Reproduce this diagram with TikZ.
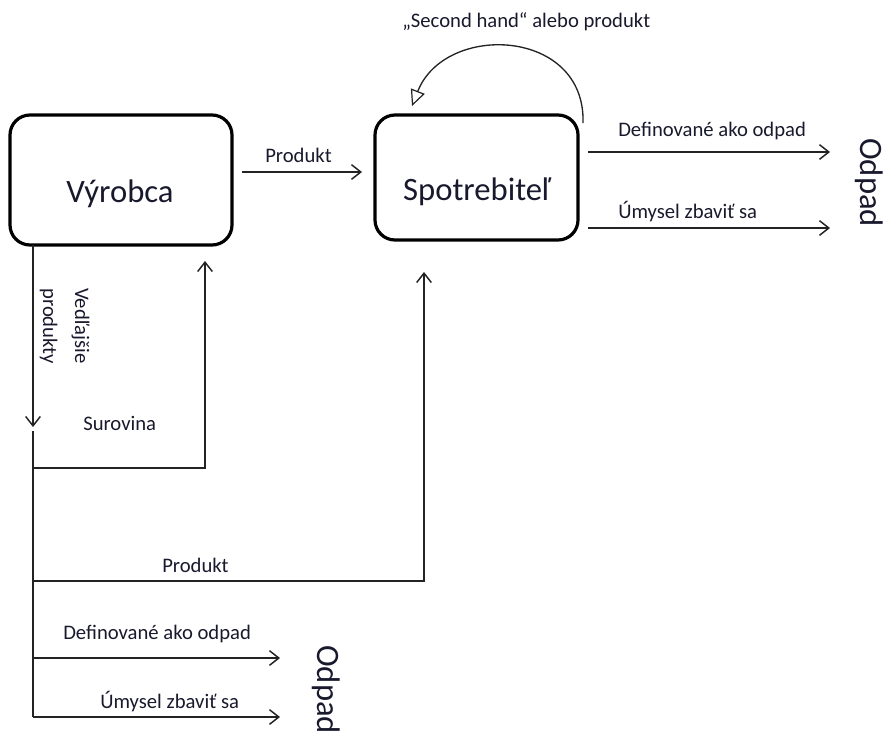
\documentclass[tikz,border=0pt]{standalone}
\usepackage{fontspec}
\setmainfont{Carlito}
\usetikzlibrary{arrows.meta}
\definecolor{txt}{RGB}{25,25,45}
\definecolor{ln}{RGB}{35,35,35}
\begin{document}
\begin{tikzpicture}[x=0.75pt,y=-0.75pt,
  box/.style={draw=black, line width=2.4pt, rounded corners=15pt, inner sep=0pt},
  big/.style={font=\fontsize{24.5}{29}\selectfont, inner sep=0pt, text=txt},
  lbl/.style={font=\fontsize{15.5}{19}\selectfont, inner sep=0pt, anchor=base west, text=txt},
  flow/.style={line width=1.4pt, draw=ln},
  arr/.style={flow, -{Straight Barb[length=7pt,width=11pt,line width=1.1pt]}},
  loop/.style={line width=1pt, draw=ln, -{Triangle[open,length=12pt,width=11pt,line width=0.9pt]}},
]
\useasboundingbox (0,0) rectangle (887,736);

% boxes
\node[box, minimum width=166.5pt, minimum height=97.5pt] (vyr) at (121,180) {};
\node[box, minimum width=152.25pt, minimum height=93.75pt] (spo) at (476.5,177.5) {};
\node[big, anchor=base] (vyrt) at (120,202) {Výrobca};
\node[big, anchor=base] (spot) at (477,200) {Spotrebiteľ};

% self loop
\coordinate (s1) at (583,123);
\coordinate (s2) at (412,106);
\draw[loop] (s1) .. controls (586,28) and (445,22) .. (s2);
\node[lbl] (sh) at (402,27) {„Second hand“ alebo produkt};

% Produkt arrow between boxes
\coordinate (p1) at (242,172);
\coordinate (p2) at (362,172);
\draw[arr] (p1) -- (p2);
\node[lbl] (plbl) at (265,162) {Produkt};

% right outputs
\coordinate (r1a) at (588,152);
\coordinate (r1b) at (830,152);
\coordinate (r2a) at (588,228);
\coordinate (r2b) at (830,228);
\draw[arr] (r1a) -- (r1b);
\draw[arr] (r2a) -- (r2b);
\node[lbl] (rl1) at (618,136) {Definované ako odpad};
\node[lbl] (rl2) at (618,218) {Úmysel zbaviť sa};
\node[big, rotate=-90, anchor=base west] (od1) at (860,138) {Odpad};

% left trunk
\coordinate (v0) at (33,245);
\coordinate (v1) at (33,427);
\coordinate (j0) at (33,431);
\draw[arr] (v0) -- (v1);
\node[lbl, rotate=-90] (ved1) at (75,288) {Vedľajšie};
\node[lbl, rotate=-90] (ved2) at (43,288) {produkty};

\coordinate (j1) at (33,468);
\coordinate (j2) at (33,581);
\coordinate (j3) at (33,658);
\coordinate (j4) at (33,717);
\draw[flow] (j0) -- (j4);

% Surovina back to Vyrobca
\coordinate (su) at (205,261);
\draw[arr] (j1) -| (su);
\node[lbl] (sul) at (83,430) {Surovina};

% Produkt to Spotrebitel
\coordinate (pr2) at (424,272);
\draw[arr] (j2) -| (pr2);
\node[lbl] (pl2) at (162,572) {Produkt};

% bottom outputs
\coordinate (d3) at (280,658);
\coordinate (d4) at (280,717);
\draw[arr] (j3) -- (d3);
\draw[arr] (j4) -- (d4);
\node[lbl] (bl1) at (63,639) {Definované ako odpad};
\node[lbl] (bl2) at (100,708) {Úmysel zbaviť sa};
\node[big, rotate=-90, anchor=base west] (od2) at (317,645) {Odpad};
\end{tikzpicture}
\end{document}
